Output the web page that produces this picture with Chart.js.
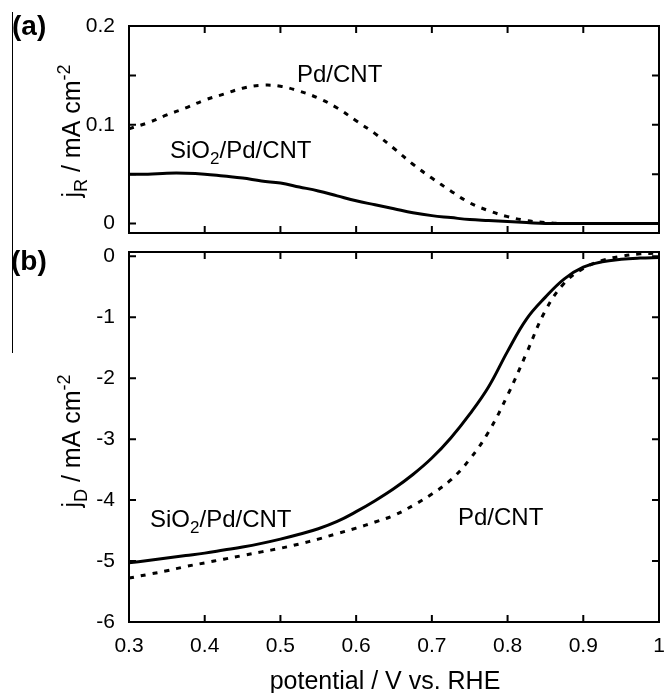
<!DOCTYPE html>
<html><head><meta charset="utf-8">
<script src="https://cdn.jsdelivr.net/npm/chart.js@4.4.1/dist/chart.umd.min.js"></script>
<style>
html,body{margin:0;padding:0;background:#fff;overflow:hidden;}
#wrap{position:relative;width:664px;height:693px;}
canvas{position:absolute;left:0;}
</style></head><body>
<div id="wrap">
<canvas id="ca" width="664" height="240" style="top:0px"></canvas>
<canvas id="cb" width="664" height="453" style="top:240px"></canvas>
</div>
<script>
// potential / V vs. RHE
const potential = [0.300,0.325,0.350,0.375,0.400,0.425,0.450,0.475,0.500,0.525,0.550,0.575,0.600,0.625,0.650,0.675,0.700,0.725,0.750,0.775,0.800,0.825,0.850,0.875,0.900,0.925,0.950,0.975,1.000];
// (a) ring current j_R
const ringPdCNT = [0.096,0.102,0.110,0.117,0.125,0.131,0.137,0.140,0.139,0.134,0.127,0.117,0.104,0.091,0.076,0.060,0.046,0.033,0.021,0.013,0.007,0.003,0.001,0,0,0,0,0,0];
const ringSiO2PdCNT = [0.050,0.050,0.051,0.051,0.050,0.048,0.046,0.043,0.041,0.037,0.033,0.028,0.023,0.019,0.015,0.011,0.008,0.006,0.004,0.003,0.002,0.001,0,0,0,0,0,0,0];
// (b) disk current j_D
const diskSiO2PdCNT = [-5.03,-4.99,-4.95,-4.91,-4.87,-4.82,-4.77,-4.71,-4.64,-4.56,-4.47,-4.35,-4.19,-4.01,-3.81,-3.58,-3.31,-2.98,-2.59,-2.14,-1.56,-1.03,-0.67,-0.37,-0.18,-0.09,-0.05,-0.03,-0.02];
const diskPdCNT = [-5.28,-5.22,-5.16,-5.09,-5.03,-4.97,-4.91,-4.85,-4.79,-4.72,-4.64,-4.55,-4.46,-4.36,-4.25,-4.09,-3.90,-3.67,-3.33,-2.88,-2.28,-1.59,-0.89,-0.44,-0.20,-0.07,0.00,0.04,0.05];
// tick values
const xTicks = [0.3,0.4,0.5,0.6,0.7,0.8,0.9,1];
const yLabelTicksA = [0,0.1,0.2];
const yMarkTicksA = [0,0.05,0.1,0.15,0.2];
const yTicksB = [0,-1,-2,-3,-4,-5,-6];

const FONT = '"Liberation Sans", Arial, Helvetica, sans-serif';
Chart.defaults.font.family = FONT;
Chart.defaults.color = '#000';

function pts(ys){ return potential.map((x,i)=>({x:x, y:ys[i]})); }

function richText(ctx, parts, x, y, size, align){
  const fonts = parts.map(p => (p[1]==='n' ? size : Math.round(size*0.7)) + 'px ' + FONT);
  let w = 0;
  parts.forEach((p,i)=>{ ctx.font = fonts[i]; w += ctx.measureText(p[0]).width; });
  let cx = align==='center' ? x - w/2 : x;
  ctx.textAlign = 'left'; ctx.textBaseline = 'alphabetic';
  parts.forEach((p,i)=>{
    ctx.font = fonts[i];
    const dy = p[1]==='sub' ? size*0.26 : (p[1]==='sup' ? -size*0.42 : 0);
    ctx.fillText(p[0], cx, y+dy);
    cx += ctx.measureText(p[0]).width;
  });
}

function framePlugin(xt, yt){
  return {
    id:'frame',
    afterDatasetsDraw(chart){
      const ctx = chart.ctx, a = chart.chartArea, x = chart.scales.x, y = chart.scales.y;
      ctx.save();
      ctx.strokeStyle = '#000'; ctx.lineWidth = 2;
      ctx.strokeRect(a.left, a.top, a.right-a.left, a.bottom-a.top);
      const L = 7;
      ctx.beginPath();
      xt.forEach(v=>{ const px = x.getPixelForValue(v);
        ctx.moveTo(px,a.top); ctx.lineTo(px,a.top+L);
        ctx.moveTo(px,a.bottom); ctx.lineTo(px,a.bottom-L); });
      yt.forEach(v=>{ const py = y.getPixelForValue(v);
        ctx.moveTo(a.left,py); ctx.lineTo(a.left+L,py);
        ctx.moveTo(a.right,py); ctx.lineTo(a.right-L,py); });
      ctx.stroke();
      ctx.restore();
    }
  };
}

function textPlugin(drawFn){
  return { id:'texts', afterDraw(chart){ const ctx = chart.ctx; ctx.save(); ctx.fillStyle = '#000'; drawFn(ctx, chart); ctx.restore(); } };
}
function noPad(s){ s.paddingTop = 0; s.paddingBottom = 0; s.paddingLeft = 0; s.paddingRight = 0; }

const solidStyle = {borderColor:'#000', borderWidth:3, pointRadius:0, fill:false, tension:0.4};
const dashStyle = {borderColor:'#000', borderWidth:3, pointRadius:0, fill:false, tension:0.4, borderDash:[5,7]};

// ---------- panel (a)
new Chart(document.getElementById('ca'), {
  type:'line',
  data:{ datasets:[
    Object.assign({label:'Pd/CNT', data:pts(ringPdCNT)}, dashStyle),
    Object.assign({label:'SiO2/Pd/CNT', data:pts(ringSiO2PdCNT)}, solidStyle)
  ]},
  options:{
    responsive:false, animation:false, devicePixelRatio:1,
    layout:{padding:{top:26,right:5,bottom:7,left:0}},
    plugins:{legend:{display:false}, tooltip:{enabled:false}},
    scales:{
      x:{type:'linear', min:0.3, max:1, display:false},
      y:{type:'linear', min:-0.0096, max:0.2,
         grid:{display:false, drawTicks:false}, border:{display:false},
         afterBuildTicks:s=>{ s.ticks = yLabelTicksA.map(v=>({value:v})); },
         afterFit:s=>{ s.width = 129; noPad(s); },
         ticks:{font:{size:21}, color:'#000', padding:14, callback:v=>String(v)}}
    }
  },
  plugins:[framePlugin(xTicks, yMarkTicksA), textPlugin((ctx)=>{
    ctx.fillRect(12, 12, 1, 228);
    ctx.font = 'bold 28px ' + FONT; ctx.textAlign='left'; ctx.textBaseline='alphabetic';
    ctx.fillText('(a)', 12, 35);
    richText(ctx, [['Pd/CNT','n']], 297, 82, 24, 'left');
    richText(ctx, [['SiO','n'],['2','sub'],['/Pd/CNT','n']], 170, 158, 24, 'left');
    ctx.save(); ctx.translate(80, 131); ctx.rotate(-Math.PI/2);
    richText(ctx, [['j','n'],['R','sub'],[' / mA cm','n'],['-2','sup']], 0, 0, 25, 'center');
    ctx.restore();
  })]
});

// ---------- panel (b)
new Chart(document.getElementById('cb'), {
  type:'line',
  data:{ datasets:[
    Object.assign({label:'Pd/CNT', data:pts(diskPdCNT)}, dashStyle),
    Object.assign({label:'SiO2/Pd/CNT', data:pts(diskSiO2PdCNT)}, solidStyle)
  ]},
  options:{
    responsive:false, animation:false, devicePixelRatio:1,
    layout:{padding:{top:12,right:5,bottom:0,left:0}},
    plugins:{legend:{display:false}, tooltip:{enabled:false}},
    scales:{
      x:{type:'linear', min:0.3, max:1,
         grid:{display:false, drawTicks:false}, border:{display:false},
         afterBuildTicks:s=>{ s.ticks = xTicks.map(v=>({value:v})); },
         afterFit:s=>{ s.height = 71; noPad(s); },
         ticks:{font:{size:21}, color:'#000', padding:12, maxRotation:0, autoSkip:false, callback:v=>String(v)}},
      y:{type:'linear', min:-6, max:0.07,
         grid:{display:false, drawTicks:false}, border:{display:false},
         afterBuildTicks:s=>{ s.ticks = yTicksB.map(v=>({value:v})); },
         afterFit:s=>{ s.width = 129; noPad(s); },
         ticks:{font:{size:21}, color:'#000', padding:14, callback:v=>String(v)}}
    }
  },
  plugins:[framePlugin(xTicks, yTicksB), textPlugin((ctx)=>{
    ctx.fillRect(12, 0, 1, 113);
    ctx.font = 'bold 28px ' + FONT; ctx.textAlign='left'; ctx.textBaseline='alphabetic';
    ctx.fillText('(b)', 11, 30);
    richText(ctx, [['SiO','n'],['2','sub'],['/Pd/CNT','n']], 150, 287, 24, 'left');
    richText(ctx, [['Pd/CNT','n']], 458, 285, 24, 'left');
    richText(ctx, [['potential / V vs. RHE','n']], 385, 449, 25, 'center');
    ctx.save(); ctx.translate(80, 201); ctx.rotate(-Math.PI/2);
    richText(ctx, [['j','n'],['D','sub'],[' / mA cm','n'],['-2','sup']], 0, 0, 25, 'center');
    ctx.restore();
  })]
});
</script>
</body></html>
